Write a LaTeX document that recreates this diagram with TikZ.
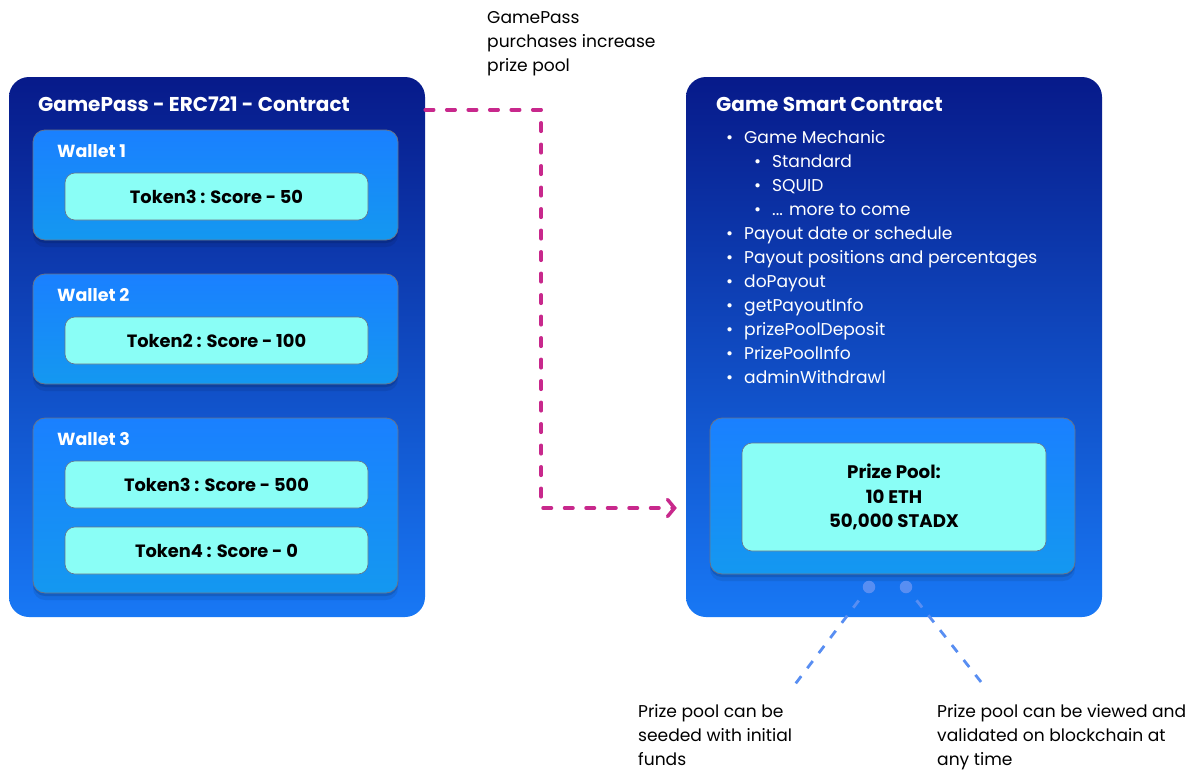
\documentclass[tikz,border=0pt]{standalone}
\usepackage{fontspec}
\setmainfont{Poppins}
\usetikzlibrary{arrows.meta,shadows}
\definecolor{navy}{RGB}{7,26,138}
\definecolor{deepblue}{RGB}{24,120,245}
\definecolor{walltop}{RGB}{26,128,255}
\definecolor{wallbot}{RGB}{20,152,240}
\definecolor{tokencyan}{RGB}{138,254,246}
\definecolor{edgegray}{RGB}{105,115,135}
\definecolor{magline}{RGB}{200,40,140}
\definecolor{dotblue}{RGB}{88,142,242}
\newcommand\hdfont{\fontsize{20}{24}\selectfont\bfseries}
\newcommand\wlfont{\fontsize{17.5}{24}\selectfont\bfseries}
\newcommand\tkfont{\fontsize{17.8}{24.4}\selectfont\bfseries}
\newcommand\ppfont{\fontsize{18.2}{24.4}\selectfont\bfseries}
\newcommand\lsfont{\fontsize{17.1}{24}\selectfont}
\newcommand\bul{\makebox[18pt][l]{•}}
\begin{document}
\begin{tikzpicture}[x=1pt,y=-1pt,
  container/.style={rounded corners=20pt, top color=navy, bottom color=deepblue,
    minimum width=416pt, minimum height=540pt, inner sep=0pt},
  wallet/.style={rounded corners=12pt, top color=walltop, bottom color=wallbot,
    draw=edgegray, line width=0.8pt, minimum width=365pt, inner sep=0pt,
    drop shadow={shadow xshift=0pt, shadow yshift=-3pt, opacity=0.12, fill=black},
    drop shadow={shadow xshift=0pt, shadow yshift=-7pt, opacity=0.08, fill=black}},
  token/.style={rounded corners=10pt, fill=tokencyan, draw=edgegray, line width=0.6pt,
    minimum width=303pt, minimum height=47pt, font=\tkfont, inner sep=0pt},
  head/.style={text=white, font=\hdfont, inner sep=0pt, anchor=base west},
  wlabel/.style={text=white, font=\wlfont, inner sep=0pt, anchor=base west},
  txt/.style={text=black, font=\lsfont, inner sep=0pt, anchor=base west, align=left},
  magarrow/.style={draw=magline, line width=3.5pt, line cap=round,
    dash pattern=on 8.5pt off 13pt, -{Straight Barb[length=7pt,width=17pt,line cap=round]}},
  bluedash/.style={draw=dotblue, line width=2.8pt, dash pattern=on 9pt off 10pt},
  dotnode/.style={circle, fill=dotblue, minimum size=12.5pt, inner sep=0pt}
]
\useasboundingbox (0,0) rectangle (1195,769);
\fill[white] (0,0) rectangle (1195,769);

% left contract
\node[container] (gp) at (217,347) {};
\node[head] (gptitle) at (38,111) {GamePass - ERC721 - Contract};

\node[wallet, minimum height=110pt] (w1) at (215.5,185) {};
\node[wlabel] (w1l) at (57,157) {Wallet 1};
\node[token] (t1) at (216.5,196.5) {Token3 : Score - 50};

\node[wallet, minimum height=110pt] (w2) at (215.5,329) {};
\node[wlabel] (w2l) at (57,301) {Wallet 2};
\node[token] (t2) at (216.5,340.5) {Token2 : Score - 100};

\node[wallet, minimum height=175pt] (w3) at (215.5,505.5) {};
\node[wlabel] (w3l) at (57,445) {Wallet 3};
\node[token] (t3) at (216.5,484.5) {Token3 : Score - 500};
\node[token] (t4) at (216.5,550.5) {Token4 : Score - 0};

% right contract
\node[container] (gsc) at (894,347) {};
\node[head] (gsctitle) at (716,111) {Game Smart Contract};
\node[txt, text=white] (list) at (726,383) {\bul Game Mechanic\\
\hspace*{28pt}\bul Standard\\
\hspace*{28pt}\bul SQUID\\
\hspace*{28pt}\bul ... more to come\\
\bul Payout date or schedule\\
\bul Payout positions and percentages\\
\bul doPayout\\
\bul getPayoutInfo\\
\bul prizePoolDeposit\\
\bul PrizePoolInfo\\
\bul adminWithdrawl};

\node[wallet, minimum height=156pt] (ppo) at (892.5,496) {};
\node[token, font=\ppfont, minimum width=304pt, minimum height=108pt, align=center] (pp) at (894,497) {Prize Pool:\\10 ETH\\50,000 STADX};

\node[dotnode] (d1) at (869,587) {};
\node[dotnode] (d2) at (906,587) {};

% labels
\node[txt] (purch) at (487,71) {GamePass\\purchases increase\\prize pool};
\node[txt] (lab1) at (638,765) {Prize pool can be\\seeded with initial\\funds};
\node[txt] (lab2) at (937,765) {Prize pool can be viewed and\\validated on blockchain at\\any time};

\coordinate (c1) at (793,687);
\coordinate (c2) at (985,687);

% connectors
\draw[magarrow] ([yshift=-33pt]gp.north east) -- ++(116,0) |- ([xshift=-9pt,yshift=-161pt]gsc.west);
\draw[bluedash, shorten <=17pt] (d1.center) -- (c1);
\draw[bluedash, shorten <=17pt] (d2.center) -- (c2);
\end{tikzpicture}
\end{document}
